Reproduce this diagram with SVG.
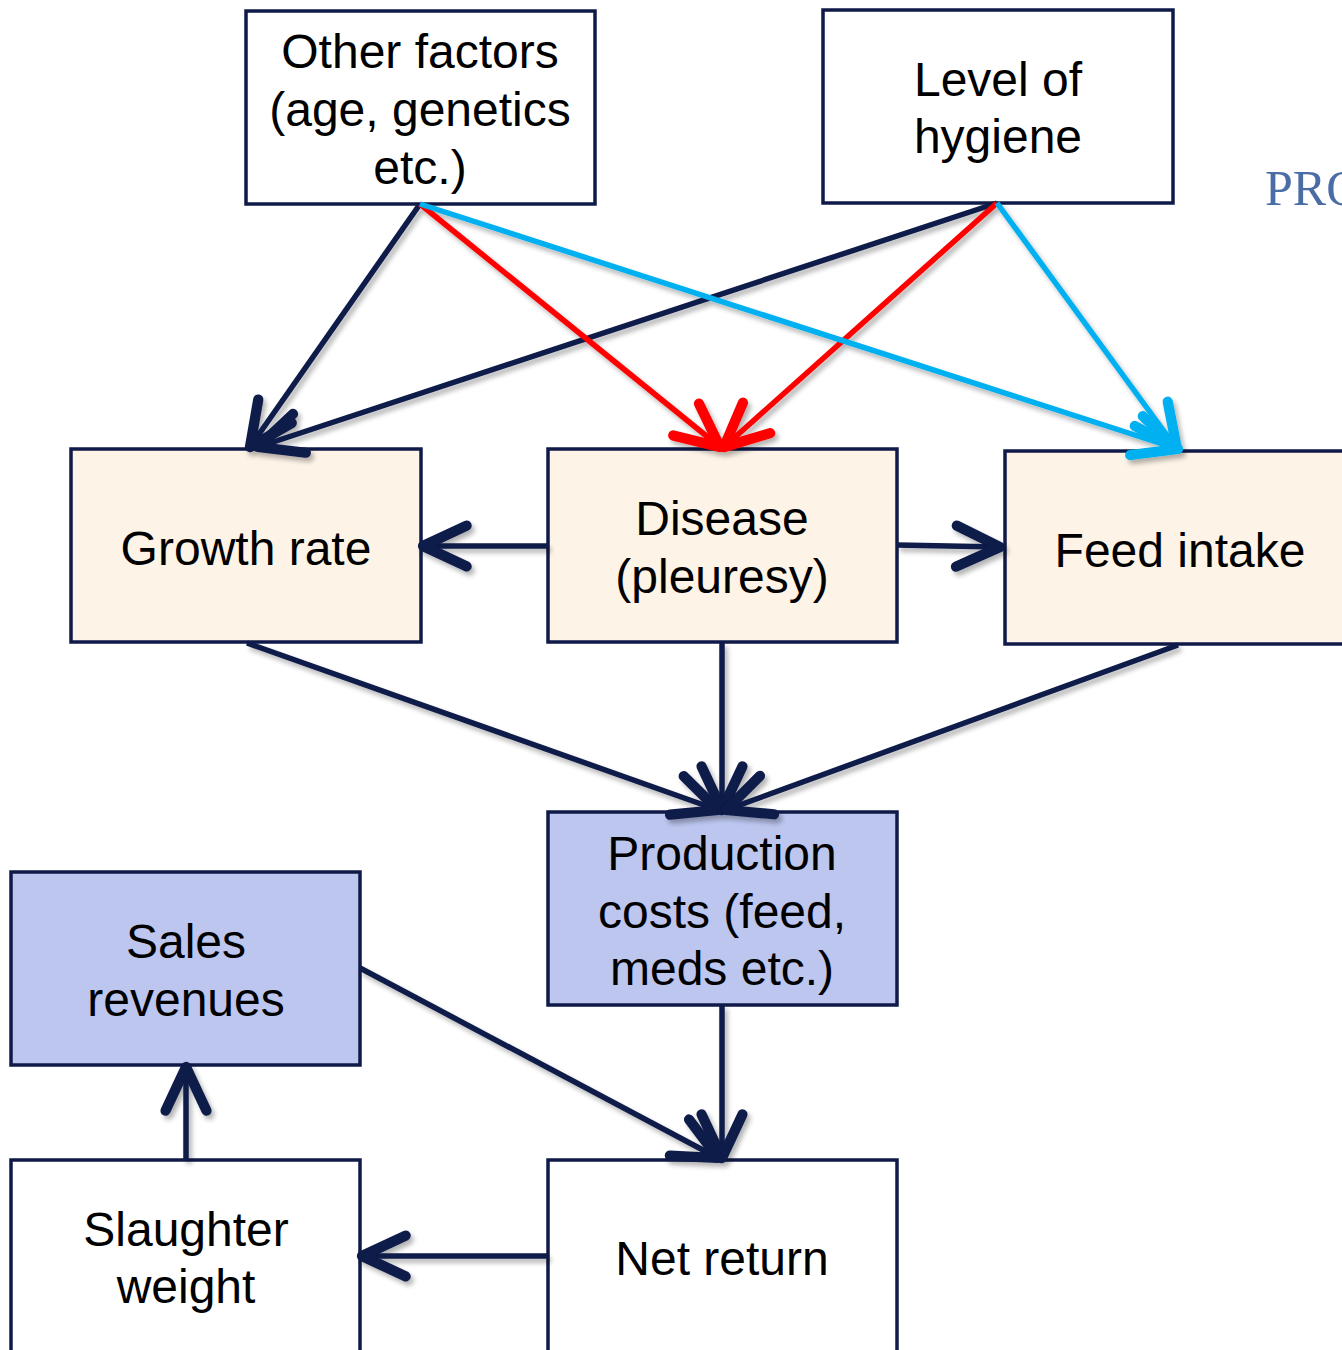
<svg xmlns="http://www.w3.org/2000/svg" width="1342" height="1350" viewBox="0 0 1342 1350">
  <style>
    .box { stroke: #0f1a48; stroke-width: 3.5; }
    .plain { fill: #ffffff; }
    .cream { fill: #fdf3e7; }
    .blue { fill: #bcc6ef; }
    .lbl { font-family: "Liberation Sans", Arial, sans-serif; font-size: 48px; fill: #000; text-anchor: middle; }
    .navy { stroke: #0f1a48; }
    .red { stroke: #ff0000; }
    .cyan { stroke: #00b0f0; }
    .conn line { stroke-width: 5.5; fill: none; }
  </style>
  <defs>
    <filter id="shadow" x="-10%" y="-10%" width="120%" height="120%">
      <feGaussianBlur in="SourceAlpha" stdDeviation="2.5"/>
      <feOffset dx="3" dy="4" result="b"/>
      <feComponentTransfer><feFuncA type="linear" slope="0.3"/></feComponentTransfer>
      <feMerge><feMergeNode/><feMergeNode in="SourceGraphic"/></feMerge>
    </filter>
    <marker id="hNavy" markerUnits="userSpaceOnUse" orient="auto" refX="0" refY="0" markerWidth="60" markerHeight="60" viewBox="-40 -20 44 40" overflow="visible">
      <path d="M -32 -15 L 0 0 L -32 15" fill="none" stroke="#0f1a48" stroke-width="7.5" stroke-linecap="round" stroke-linejoin="round"/>
    </marker>
    <marker id="hRed" markerUnits="userSpaceOnUse" orient="auto" refX="0" refY="0" markerWidth="60" markerHeight="60" viewBox="-40 -20 44 40" overflow="visible">
      <path d="M -32 -15 L 0 0 L -32 15" fill="none" stroke="#ff0000" stroke-width="7.5" stroke-linecap="round" stroke-linejoin="round"/>
    </marker>
    <marker id="hCyan" markerUnits="userSpaceOnUse" orient="auto" refX="0" refY="0" markerWidth="60" markerHeight="60" viewBox="-40 -20 44 40" overflow="visible">
      <path d="M -32 -15 L 0 0 L -32 15" fill="none" stroke="#00b0f0" stroke-width="7.5" stroke-linecap="round" stroke-linejoin="round"/>
    </marker>
  </defs>

  <rect width="1342" height="1350" fill="#ffffff"/>

  <!-- heading running off the right edge -->
  <text x="1265" y="205" font-family="Liberation Serif, serif" font-size="50" fill="#4a6da6">PRO</text>

  <g id="node-other-factors">
    <rect class="box plain" x="246" y="11" width="349" height="193"/>
    <text class="lbl" x="420" y="68">Other factors</text>
    <text class="lbl" x="420" y="126">(age, genetics</text>
    <text class="lbl" x="420" y="184">etc.)</text>
  </g>
  <g id="node-hygiene">
    <rect class="box plain" x="823" y="10" width="350" height="193"/>
    <text class="lbl" x="998" y="96">Level of</text>
    <text class="lbl" x="998" y="153">hygiene</text>
  </g>
  <g id="node-growth-rate">
    <rect class="box cream" x="71" y="449" width="350" height="193"/>
    <text class="lbl" x="246" y="565">Growth rate</text>
  </g>
  <g id="node-disease">
    <rect class="box cream" x="548" y="449" width="349" height="193"/>
    <text class="lbl" x="722" y="535">Disease</text>
    <text class="lbl" x="722" y="593">(pleuresy)</text>
  </g>
  <g id="node-feed-intake">
    <rect class="box cream" x="1005" y="451" width="350" height="193"/>
    <text class="lbl" x="1180" y="567">Feed intake</text>
  </g>
  <g id="node-production-costs">
    <rect class="box blue" x="548" y="812" width="349" height="193"/>
    <text class="lbl" x="722" y="870">Production</text>
    <text class="lbl" x="722" y="928">costs (feed,</text>
    <text class="lbl" x="722" y="985">meds etc.)</text>
  </g>
  <g id="node-sales-revenues">
    <rect class="box blue" x="11" y="872" width="349" height="193"/>
    <text class="lbl" x="186" y="958">Sales</text>
    <text class="lbl" x="186" y="1016">revenues</text>
  </g>
  <g id="node-slaughter-weight">
    <rect class="box plain" x="11" y="1160" width="349" height="200"/>
    <text class="lbl" x="186" y="1246">Slaughter</text>
    <text class="lbl" x="186" y="1303">weight</text>
  </g>
  <g id="node-net-return">
    <rect class="box plain" x="548" y="1160" width="349" height="200"/>
    <text class="lbl" x="722" y="1275">Net return</text>
  </g>

  <g id="connectors" class="conn" filter="url(#shadow)">
    <line class="navy" x1="420" y1="204" x2="250" y2="447" marker-end="url(#hNavy)"/>
    <line class="navy" x1="997" y1="203" x2="258" y2="447" marker-end="url(#hNavy)"/>
    <line class="red" x1="420" y1="204" x2="720" y2="447" marker-end="url(#hRed)"/>
    <line class="red" x1="997" y1="203" x2="724" y2="447" marker-end="url(#hRed)"/>
    <line class="cyan" x1="420" y1="204" x2="1178" y2="449" marker-end="url(#hCyan)"/>
    <line class="cyan" x1="997" y1="203" x2="1177" y2="449" marker-end="url(#hCyan)"/>
    <line class="navy" x1="548" y1="546" x2="423" y2="546" marker-end="url(#hNavy)"/>
    <line class="navy" x1="897" y1="545" x2="1000" y2="547" marker-end="url(#hNavy)"/>
    <line class="navy" x1="247" y1="643" x2="718" y2="810" marker-end="url(#hNavy)"/>
    <line class="navy" x1="722" y1="643" x2="722" y2="810" marker-end="url(#hNavy)"/>
    <line class="navy" x1="1178" y1="645" x2="726" y2="810" marker-end="url(#hNavy)"/>
    <line class="navy" x1="722" y1="1005" x2="722" y2="1158" marker-end="url(#hNavy)"/>
    <line class="navy" x1="360" y1="968" x2="718" y2="1158" marker-end="url(#hNavy)"/>
    <line class="navy" x1="548" y1="1256" x2="362" y2="1256" marker-end="url(#hNavy)"/>
    <line class="navy" x1="186" y1="1160" x2="186" y2="1067" marker-end="url(#hNavy)"/>
  </g>
</svg>
